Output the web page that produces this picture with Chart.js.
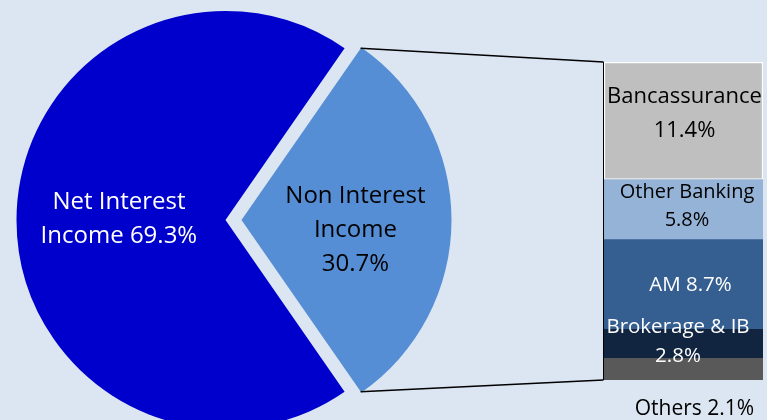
<!DOCTYPE html>
<html>
<head>
<meta charset="utf-8">
<script src="https://cdn.jsdelivr.net/npm/chart.js@4.4.1/dist/chart.umd.min.js"></script>
<style>
  html, body { margin: 0; padding: 0; background: #DCE6F2; }
  #wrap { position: relative; width: 767px; height: 420px; overflow: hidden; }
  canvas { position: absolute; left: 0; top: 0; }
</style>
</head>
<body>
<div id="wrap">
  <canvas id="pie" width="767" height="420"></canvas>
  <canvas id="bar" width="767" height="420"></canvas>
</div>
<script>
'use strict';

// pie: income split
const pieLabels = ['Net Interest Income', 'Non Interest Income'];
const pieValues = [69.3, 30.7];
const pieText = [['Net Interest', 'Income 69.3%'], ['Non Interest', 'Income', '30.7%']];

// bar: breakdown of non interest income, bottom to top
const barLabels = ['Others', 'Brokerage & IB', 'AM', 'Other Banking', 'Bancassurance'];
const barValues = [2.1, 2.8, 8.7, 5.8, 11.4];
const barText = [['Others 2.1%'], ['Brokerage & IB', '2.8%'], ['AM 8.7%'], ['Other Banking', '5.8%'], ['Bancassurance', '11.4%']];

const pieColors = ['#0000CC', '#558ED5'];
const pieTextColors = ['#FFFFFF', '#000000'];
const barColors = ['#595959', '#112540', '#365F91', '#95B3D7', '#BFBFBF'];
const barTextColors = ['#000000', '#FFFFFF', '#FFFFFF', '#000000', '#000000'];

const FONT = '"Open Sans", sans-serif';
const CAP = 0.714;
const SHIFT = 16; // px the small slice is pulled out (chart.js moves arcs by offset/4)

function $(id) { return document.getElementById(id); }

function drawLines(ctx, lines, cx, cy, size, gap, color) {
   ctx.save();
   ctx.font = size + 'px ' + FONT;
   ctx.fillStyle = color;
   ctx.textAlign = 'center';
   ctx.textBaseline = 'alphabetic';
   const top = cy - gap * (lines.length - 1) / 2;
   lines.forEach((t, i) => {
      ctx.fillText(t, cx, top + i * gap + size * CAP / 2);
   });
   ctx.restore();
}

const pieTotal = pieValues.reduce((a, b) => a + b, 0);
const pieRotation = 270 - pieValues[0] / pieTotal * 180;

// where the pie labels sit, as fraction of radius along the slice middle
const pieLabelPos = [{f: 0.51, dy: -3}, {f: 0.545, dy: 8}];

const pieLabelPlugin = {
   id: 'pieLabels',
   afterDatasetsDraw(chart) {
      const ctx = chart.ctx;
      chart.getDatasetMeta(0).data.forEach((arc, i) => {
         const mid = (arc.startAngle + arc.endAngle) / 2;
         const off = (arc.options.offset || 0) / 4;
         const d = arc.outerRadius * pieLabelPos[i].f + off;
         const x = arc.x + Math.cos(mid) * d;
         const y = arc.y + Math.sin(mid) * d + pieLabelPos[i].dy;
         drawLines(ctx, pieText[i], x, y, 24, 34, pieTextColors[i]);
      });
   }
};

const pieChart = new Chart($('pie'), {
   type: 'pie',
   data: {
      labels: pieLabels,
      datasets: [{
         data: pieValues,
         backgroundColor: pieColors,
         borderWidth: 0,
         offset: [0, SHIFT * 4],
         radius: 209,
         clip: false
      }]
   },
   options: {
      responsive: false,
      animation: false,
      rotation: pieRotation,
      layout: {padding: {left: 0, right: 316, top: 20, bottom: 0}},
      plugins: {legend: {display: false}, tooltip: {enabled: false}}
   },
   plugins: [pieLabelPlugin]
});

const barSum = barValues.reduce((a, b) => a + b, 0);

// label nudges for each bar segment
const barLabelPos = [
   {dx: 11, dy: 38.5, size: 21, gap: 0},
   {dx: -5.5, dy: -3.4, size: 20.5, gap: 29},
   {dx: 7, dy: -1, size: 20.5, gap: 0},
   {dx: 3.5, dy: -4.6, size: 20, gap: 28},
   {dx: 1, dy: -8.5, size: 22, gap: 34}
];

const barPlugin = {
   id: 'barExtras',
   afterDatasetsDraw(chart) {
      const ctx = chart.ctx;
      // connector lines from the pulled out slice to the bar
      const arc = pieChart.getDatasetMeta(0).data[1];
      const mid = (arc.startAngle + arc.endAngle) / 2;
      const off = (arc.options.offset || 0) / 4;
      const ax = arc.x + Math.cos(mid) * off;
      const ay = arc.y + Math.sin(mid) * off;
      const r = arc.outerRadius;
      const p1 = {x: ax + Math.cos(arc.startAngle) * r, y: ay + Math.sin(arc.startAngle) * r};
      const p2 = {x: ax + Math.cos(arc.endAngle) * r, y: ay + Math.sin(arc.endAngle) * r};
      const topBar = chart.getDatasetMeta(barValues.length - 1).data[0];
      const botBar = chart.getDatasetMeta(0).data[0];
      const left = topBar.x - topBar.width / 2 - 0.5;
      ctx.save();
      ctx.strokeStyle = '#000000';
      ctx.lineWidth = 1.5;
      ctx.beginPath();
      ctx.moveTo(p1.x, p1.y);
      ctx.lineTo(left, topBar.y);
      ctx.moveTo(p2.x, p2.y);
      ctx.lineTo(left, botBar.base);
      ctx.stroke();
      ctx.lineWidth = 1;
      ctx.beginPath();
      ctx.moveTo(left, topBar.y);
      ctx.lineTo(left, botBar.base);
      ctx.stroke();
      ctx.restore();

      barValues.forEach((v, i) => {
         const el = chart.getDatasetMeta(i).data[0];
         const p = barLabelPos[i];
         const cy = (el.y + el.base) / 2 + p.dy;
         drawLines(ctx, barText[i], el.x + p.dx, cy, p.size, p.gap, barTextColors[i]);
      });
   }
};

new Chart($('bar'), {
   type: 'bar',
   data: {
      labels: [''],
      datasets: barLabels.map((l, i) => ({
         label: l,
         data: [barValues[i]],
         backgroundColor: barColors[i],
         borderColor: i === barLabels.length - 1 ? '#FFFFFF' : 'rgba(0,0,0,0)',
         borderWidth: i === barLabels.length - 1 ? 1.5 : 0,
         borderSkipped: false,
         barPercentage: 1,
         categoryPercentage: 1
      }))
   },
   options: {
      responsive: false,
      animation: false,
      layout: {padding: {left: 604, right: 4, top: 62, bottom: 40}},
      scales: {
         x: {display: false, stacked: true},
         y: {display: false, stacked: true, min: 0, max: barSum}
      },
      plugins: {legend: {display: false}, tooltip: {enabled: false}}
   },
   plugins: [barPlugin]
});
</script>
</body>
</html>
